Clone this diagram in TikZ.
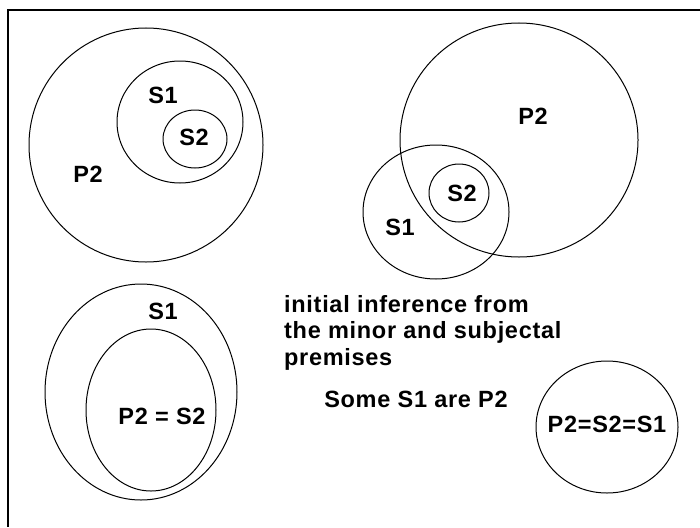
\documentclass[tikz,border=0pt]{standalone}
\usepackage{fontspec}
\setmainfont{Liberation Sans}[LetterSpace=3]
\begin{document}
\begin{tikzpicture}[
  x=1pt, y=-1pt,
  font=\fontsize{23.5}{26.5}\selectfont\bfseries,
  ring/.style={draw, line width=1pt},
  lbl/.style={inner sep=0pt},
  frame/.style={line width=2.8pt}
]
\useasboundingbox (0,0) rectangle (700,527);
\draw[frame] (700,10) -- (8,10) -- (8,527);

% P2 holds S1, S1 holds S2
\draw[ring] (146,145) circle [radius=117];
\draw[ring] (180,122) ellipse [x radius=63, y radius=61];
\draw[ring] (195,139) ellipse [x radius=32, y radius=29];
\node[lbl] (a-s1) at (163,95) {S1};
\node[lbl] (a-s2) at (194,137) {S2};
\node[lbl] (a-p2) at (88,174) {P2};

% S1 overlaps P2, S2 in the overlap
\draw[ring] (519,140) ellipse [x radius=119, y radius=117];
\draw[ring] (436,212) ellipse [x radius=73, y radius=67];
\draw[ring] (459,193) ellipse [x radius=30, y radius=29];
\node[lbl] (b-p2) at (533,116) {P2};
\node[lbl] (b-s2) at (462,193) {S2};
\node[lbl] (b-s1) at (400,227) {S1};

% S1 around P2 = S2
\draw[ring] (141,392) ellipse [x radius=96, y radius=108];
\draw[ring] (151,410) ellipse [x radius=65, y radius=81];
\node[lbl] (c-s1) at (163,311) {S1};
\node[lbl] (c-p2) at (162,416) {P2 = S2};

% all three the same
\draw[ring] (607,427) ellipse [x radius=71, y radius=66];
\node[lbl] (d-all) at (607,424) {P2=S2=S1};

\node[lbl, anchor=north west, align=left] (note) at (284,295)
  {initial inference from\\the minor and subjectal\\premises};
\node[lbl] (some) at (416,399) {Some S1 are P2};
\end{tikzpicture}
\end{document}
